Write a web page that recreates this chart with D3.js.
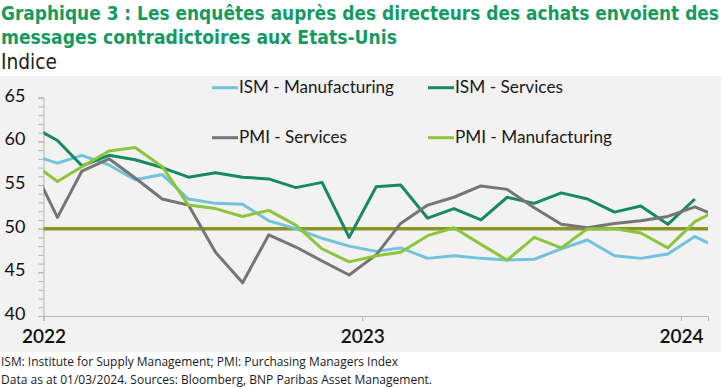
<!DOCTYPE html>
<html>
<head>
<meta charset="utf-8">
<script src="https://cdn.jsdelivr.net/npm/d3@7"></script>
<style>
    body { margin: 0; background: #fff; }
    svg { display: block; }
</style>
</head>
<body>
<svg id="chart" width="725" height="387"></svg>
<script>
/*------------------------- Data -------------------------*/
// monthly survey readings, Dec 2021 -> Feb 2024 (plotted at month end)
const months = ["2021-12",
    "2022-01", "2022-02", "2022-03", "2022-04", "2022-05", "2022-06",
    "2022-07", "2022-08", "2022-09", "2022-10", "2022-11", "2022-12",
    "2023-01", "2023-02", "2023-03", "2023-04", "2023-05", "2023-06",
    "2023-07", "2023-08", "2023-09", "2023-10", "2023-11", "2023-12",
    "2024-01", "2024-02"];

const ismManufacturing = [58.5,
    57.5, 58.4, 57.3, 55.6, 56.2, 53.4, 52.9, 52.8, 50.9, 50.0, 48.9, 48.0,
    47.4, 47.8, 46.6, 46.9, 46.6, 46.4, 46.5, 47.7, 48.7, 46.9, 46.6, 47.1,
    49.1, 47.7];

const ismServices = [61.8,
    60.1, 57.2, 58.4, 57.9, 57.0, 55.9, 56.4, 55.9, 55.7, 54.7, 55.3, 49.0,
    54.8, 55.0, 51.2, 52.3, 51.0, 53.6, 52.9, 54.1, 53.4, 51.9, 52.6, 50.5,
    53.4, null];

const pmiServices = [57.6,
    51.3, 56.6, 58.0, 55.8, 53.4, 52.7, 47.3, 43.8, 49.3, 47.9, 46.3, 44.7,
    47.0, 50.6, 52.7, 53.6, 54.9, 54.5, 52.4, 50.5, 50.1, 50.6, 50.9, 51.4,
    52.5, 51.3];

const pmiManufacturing = [57.7,
    55.4, 57.1, 58.9, 59.3, 57.1, 52.7, 52.3, 51.4, 52.1, 50.4, 47.7, 46.2,
    46.9, 47.3, 49.2, 50.1, 48.2, 46.4, 49.0, 47.8, 50.0, 50.0, 49.5, 47.8,
    50.8, 52.3];

const seriesNames = ["ISM - Manufacturing", "ISM - Services", "PMI - Services", "PMI - Manufacturing"];
const yearLabels = ["2022", "2023", "2024"];
const yTicks = [40, 45, 50, 55, 60, 65];
const threshold = 50;

const title1 = "Graphique 3 : Les enquêtes auprès des directeurs des achats envoient des";
const title2 = "messages contradictoires aux Etats-Unis";
const unitLabel = "Indice";
const note1 = "ISM: Institute for Supply Management; PMI: Purchasing Managers Index";
const note2 = "Data as at 01/03/2024. Sources: Bloomberg, BNP Paribas Asset Management.";

/*------------------------ Colors ------------------------*/
const colors = ["#71c2da", "#17895e", "#757575", "#8cc43c"];
const green = "#179a61";

/*------------------------ Layout ------------------------*/
const plot = { left: 43.5, right: 708, top: 97.7, bottom: 316 };
const titleFont = "'Liberation Sans Narrow', 'DejaVu Sans Condensed', sans-serif";

const svg = d3.select("#chart");

// gray chart panel
svg.append("rect")
    .attr("x", 0).attr("y", 76)
    .attr("width", 721).attr("height", 276)
    .attr("fill", "#f2f2f2");

// titles (condensed font, stretched a little in height)
svg.append("text")
    .attr("transform", "translate(1,20) scale(1,1.05)")
    .attr("textLength", 718).attr("lengthAdjust", "spacingAndGlyphs")
    .style("font-family", titleFont)
    .style("font-weight", "bold").style("font-size", "18.8px")
    .attr("fill", green)
    .text(title1);

svg.append("text")
    .attr("transform", "translate(1,43.5) scale(1,1.05)")
    .attr("textLength", 396).attr("lengthAdjust", "spacingAndGlyphs")
    .style("font-family", titleFont)
    .style("font-weight", "bold").style("font-size", "18.8px")
    .attr("fill", green)
    .text(title2);

svg.append("text")
    .attr("x", 1).attr("y", 69)
    .attr("textLength", 56).attr("lengthAdjust", "spacingAndGlyphs")
    .style("font-family", titleFont)
    .style("font-size", "21px")
    .attr("fill", "#222")
    .text(unitLabel);

/*------------------------ Scales ------------------------*/
const parseMonth = d3.timeParse("%Y-%m");
// month end of each period
const dates = months.map(m => d3.timeDay.offset(d3.timeMonth.offset(parseMonth(m), 1), -1));

// Excel axis runs mid-January to mid-February
const x = d3.scaleTime()
    .domain([new Date(2022, 0, 15), new Date(2024, 1, 15)])
    .range([plot.left, plot.right]);

const y = d3.scaleLinear()
    .domain([40, 65])
    .range([plot.bottom, plot.top]);

svg.append("clipPath").attr("id", "plot-clip")
    .append("rect")
    .attr("x", plot.left).attr("y", 0)
    .attr("width", plot.right - plot.left).attr("height", 387);

/*------------------------- Axes -------------------------*/
// minor ticks on y
svg.append("g")
    .attr("transform", `translate(${plot.left},0)`)
    .call(d3.axisLeft(y).ticks(25).tickSize(5).tickFormat(""))
    .call(g => g.select(".domain").remove())
    .call(g => g.selectAll("line").attr("stroke", "#b5b5b5"));

const yAxis = svg.append("g")
    .attr("transform", `translate(${plot.left},0)`)
    .call(d3.axisLeft(y).tickValues(yTicks).tickSize(5).tickPadding(13));
yAxis.select(".domain").attr("stroke", "#b5b5b5");
yAxis.selectAll("line").attr("stroke", "#b5b5b5");
yAxis.selectAll("text")
    .attr("dy", "0.2em")
    .style("font-family", "Lato, 'Open Sans', sans-serif")
    .style("font-size", "18px")
    .attr("fill", "#111");

const yearDates = yearLabels.map(t => new Date(+t, 0, 15));
const xAxis = svg.append("g")
    .attr("transform", `translate(0,${plot.bottom})`)
    .call(d3.axisBottom(x).tickValues(yearDates).tickSize(5).tickPadding(9)
        .tickFormat((d, i) => yearLabels[i]));
xAxis.select(".domain").attr("stroke", "#b5b5b5");
xAxis.selectAll("line").attr("stroke", "#b5b5b5");
xAxis.selectAll("text")
    .style("font-family", "Lato, 'Open Sans', sans-serif")
    .style("font-size", "19px")
    .style("font-weight", "600")
    .attr("fill", "#111");

/*------------------------ Marks -------------------------*/
svg.append("line")
    .attr("x1", plot.left).attr("x2", plot.right)
    .attr("y1", y(threshold)).attr("y2", y(threshold))
    .attr("stroke", "#8a9528").attr("stroke-width", 3.5);

const series = [ismManufacturing, ismServices, pmiServices, pmiManufacturing]
    .map((vals, i) => ({ name: seriesNames[i], color: colors[i], values: vals }));

const line = d3.line()
    .defined(d => d.v != null)
    .x(d => x(d.date))
    .y(d => y(d.v));

svg.append("g")
    .attr("clip-path", "url(#plot-clip)")
    .selectAll("path")
    .data(series)
    .enter()
    .append("path")
    .attr("fill", "none")
    .attr("stroke", d => d.color)
    .attr("stroke-width", 3)
    .attr("stroke-linejoin", "round")
    .attr("d", d => line(d.values.map((v, i) => ({ date: dates[i], v: v }))));

/*------------------------ Legend ------------------------*/
const legendPos = [
    { x: 212, y: 87.7, w: 155 },
    { x: 428, y: 87.7, w: 108 },
    { x: 212, y: 137.7, w: 108 },
    { x: 428, y: 137.7, w: 157 }
];

const legend = svg.append("g")
    .selectAll("g")
    .data(series)
    .enter()
    .append("g")
    .attr("transform", (d, i) => `translate(${legendPos[i].x},${legendPos[i].y})`);

legend.append("line")
    .attr("x1", 0).attr("x2", 26)
    .attr("stroke", d => d.color)
    .attr("stroke-width", 3);

legend.append("text")
    .attr("x", 27).attr("y", 5.5)
    .attr("textLength", (d, i) => legendPos[i].w)
    .attr("lengthAdjust", "spacingAndGlyphs")
    .style("font-family", "Lato, 'Open Sans', sans-serif")
    .style("font-size", "17.5px")
    .attr("fill", "#1a1a1a")
    .text(d => d.name);

/*------------------------ Footer ------------------------*/
svg.append("text")
    .attr("x", 1).attr("y", 366)
    .attr("textLength", 397).attr("lengthAdjust", "spacingAndGlyphs")
    .style("font-family", "'Liberation Sans Narrow', 'Open Sans', sans-serif")
    .style("font-size", "13px")
    .attr("fill", "#1a1a1a")
    .text(note1);

svg.append("text")
    .attr("x", 1).attr("y", 384)
    .attr("textLength", 431).attr("lengthAdjust", "spacingAndGlyphs")
    .style("font-family", "'Liberation Sans Narrow', 'Open Sans', sans-serif")
    .style("font-size", "13px")
    .attr("fill", "#1a1a1a")
    .text(note2);
</script>
</body>
</html>
